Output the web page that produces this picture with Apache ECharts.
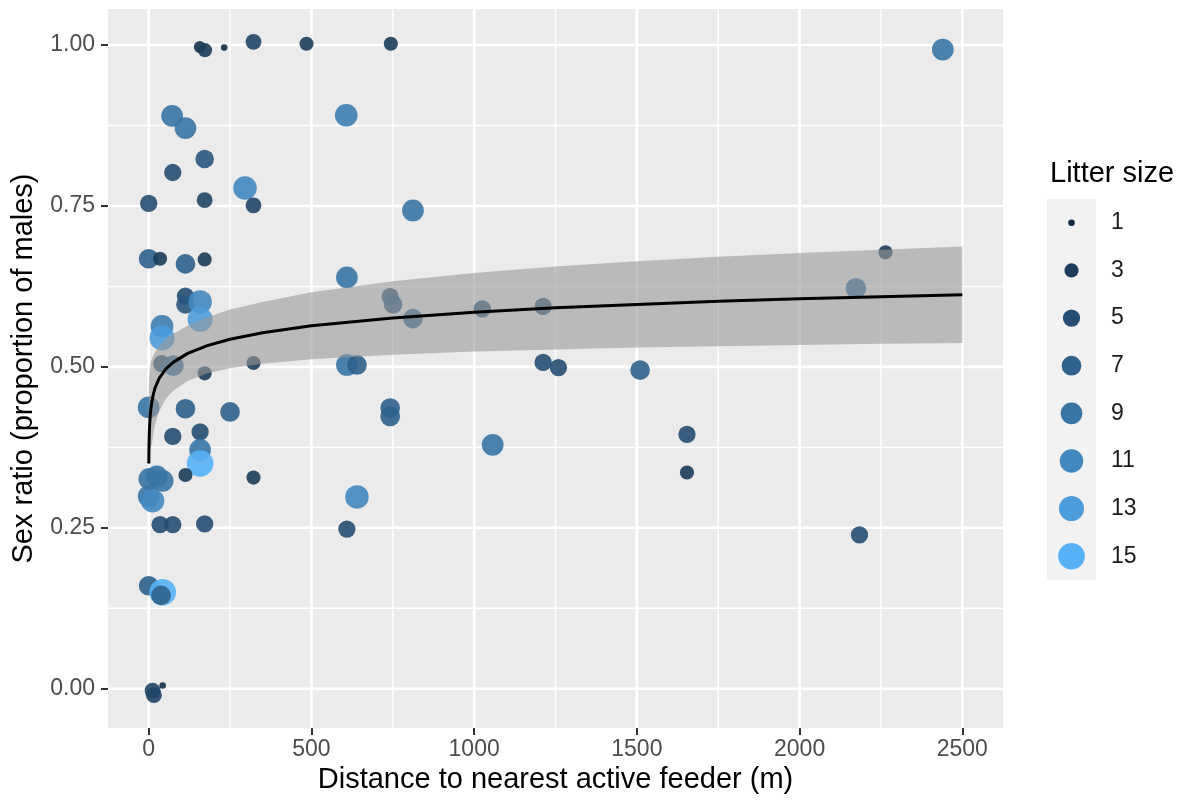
<!DOCTYPE html>
<html>
<head>
<meta charset="utf-8">
<title>Sex ratio vs distance to feeder</title>
<script src="https://cdn.jsdelivr.net/npm/echarts@6/dist/echarts.min.js"></script>
<style>
  html, body { margin: 0; padding: 0; background: #fff; }
  #chart { width: 1185px; height: 801px; }
</style>
</head>
<body>
<div id="chart"></div>
<script>
// one entry per litter: distance to feeder (m), proportion of males, litter size
const distance = [157, 173, 232, 322, 485, 744, 2440, 72, 113, 607, 172, 74, 296, 0, 172, 322, 812,
  0, 35, 113, 172, 609, 113, 113, 158, 158, 742, 751, 812, 41, 41, 40, 76, 322, 609, 640, 172,
  0, 113, 250, 742, 742, 74, 158, 158, 158, 113, 322, 2, 25, 43, 0, 12, 640, 35, 74, 172, 609,
  0, 43, 38, 12, 16, 43, 1025, 1212, 1212, 1259, 1510, 1057, 1654, 1654, 2184, 2264, 2173];
const sexRatio = [0.997, 0.992, 0.996, 1.005, 1.002, 1.002, 0.993, 0.890, 0.871, 0.891, 0.823, 0.802, 0.778, 0.754, 0.759, 0.751, 0.743,
  0.668, 0.668, 0.660, 0.667, 0.639, 0.610, 0.597, 0.601, 0.574, 0.609, 0.597, 0.575, 0.563, 0.545, 0.505, 0.502, 0.506, 0.503, 0.503, 0.490,
  0.437, 0.435, 0.430, 0.436, 0.423, 0.392, 0.399, 0.371, 0.350, 0.332, 0.328, 0.326, 0.330, 0.323, 0.299, 0.292, 0.298, 0.255, 0.255, 0.256, 0.248,
  0.160, 0.150, 0.145, -0.003, -0.010, 0.005, 0.590, 0.594, 0.507, 0.499, 0.495, 0.379, 0.395, 0.336, 0.239, 0.678, 0.622];
const litterSize = [2, 3, 1, 4, 3, 3, 9, 9, 9, 10, 6, 5, 11, 5, 4, 4, 9,
  7, 3, 7, 3, 9, 5, 6, 11, 13, 5, 6, 7, 10, 13, 5, 8, 3, 9, 7, 3,
  9, 7, 7, 7, 7, 5, 5, 9, 15, 3, 3, 9, 9, 9, 9, 11, 11, 5, 5, 5, 5,
  7, 15, 7, 4, 4, 1, 5, 5, 5, 5, 7, 9, 5, 3, 5, 3, 8];

// fitted curve and its confidence band
const fitX = [0.4, 1, 2, 3, 5, 7, 10, 15, 20, 33, 53, 75, 120, 180, 250, 350, 500, 750, 1000, 1250, 1500, 1750, 2000, 2250, 2500];
const fitY = [0.350, 0.378, 0.398, 0.411, 0.426, 0.436, 0.447, 0.459, 0.468, 0.483, 0.497, 0.507, 0.521, 0.533, 0.543, 0.553, 0.564, 0.576, 0.585, 0.592, 0.597, 0.602, 0.606, 0.609, 0.612];
const fitLower = [0.340, 0.350, 0.360, 0.365, 0.372, 0.376, 0.380, 0.399, 0.411, 0.432, 0.451, 0.463, 0.478, 0.490, 0.498, 0.505, 0.512, 0.519, 0.524, 0.527, 0.530, 0.532, 0.534, 0.536, 0.537];
const fitUpper = [0.470, 0.480, 0.490, 0.495, 0.503, 0.508, 0.513, 0.519, 0.524, 0.533, 0.543, 0.551, 0.564, 0.577, 0.589, 0.601, 0.616, 0.633, 0.646, 0.656, 0.664, 0.671, 0.677, 0.682, 0.687];

const xTicks = [0, 500, 1000, 1500, 2000, 2500];
const xMinor = [250, 750, 1250, 1750, 2250];
const yTicks = [0, 0.25, 0.5, 0.75, 1];
const yMinor = [0.125, 0.375, 0.625, 0.875];
const legendSizes = [1, 3, 5, 7, 9, 11, 13, 15];

const FONT = '"Liberation Sans", Arial, Helvetica, sans-serif';

// ggplot-like gradient (#132B43 -> #56B1F7), interpolated in Lab
function toLin(c) { c /= 255; return c <= 0.04045 ? c / 12.92 : Math.pow((c + 0.055) / 1.055, 2.4); }
function toSrgb(c) { c = c <= 0.0031308 ? 12.92 * c : 1.055 * Math.pow(c, 1 / 2.4) - 0.055; return Math.round(Math.min(1, Math.max(0, c)) * 255); }
function hexToLab(hex) {
  const r = toLin(parseInt(hex.substr(1, 2), 16)), g = toLin(parseInt(hex.substr(3, 2), 16)), b = toLin(parseInt(hex.substr(5, 2), 16));
  const X = (0.4124 * r + 0.3576 * g + 0.1805 * b) / 0.95047;
  const Y = 0.2126 * r + 0.7152 * g + 0.0722 * b;
  const Z = (0.0193 * r + 0.1192 * g + 0.9505 * b) / 1.08883;
  const f = t => t > 0.008856 ? Math.cbrt(t) : 7.787 * t + 16 / 116;
  return [116 * f(Y) - 16, 500 * (f(X) - f(Y)), 200 * (f(Y) - f(Z))];
}
function labToHex(L, a, b) {
  const fy = (L + 16) / 116, fx = fy + a / 500, fz = fy - b / 200;
  const inv = t => t * t * t > 0.008856 ? t * t * t : (t - 16 / 116) / 7.787;
  const X = inv(fx) * 0.95047, Y = inv(fy), Z = inv(fz) * 1.08883;
  const r = 3.2406 * X - 1.5372 * Y - 0.4986 * Z;
  const g = -0.9689 * X + 1.8758 * Y + 0.0415 * Z;
  const bb = 0.0557 * X - 0.2040 * Y + 1.0570 * Z;
  return 'rgb(' + toSrgb(r) + ',' + toSrgb(g) + ',' + toSrgb(bb) + ')';
}
const lowLab = hexToLab('#132B43');
const highLab = hexToLab('#56B1F7');
function sizeColour(v) {
  const t = (v - 1) / 14;
  return labToHex(lowLab[0] + t * (highLab[0] - lowLab[0]), lowLab[1] + t * (highLab[1] - lowLab[1]), lowLab[2] + t * (highLab[2] - lowLab[2]));
}
// area scale, like scale_size()
function keySize(v) { return 6.6 + 20 * Math.sqrt((v - 1) / 14); }

function gridLine(vertical, width) {
  return function (params, api) {
    const cs = params.coordSys;
    const p = api.coord([api.value(0), api.value(1)]);
    const shape = vertical
      ? { x1: p[0], y1: cs.y, x2: p[0], y2: cs.y + cs.height }
      : { x1: cs.x, y1: p[1], x2: cs.x + cs.width, y2: p[1] };
    return { type: 'line', shape: shape, style: { stroke: '#ffffff', lineWidth: width } };
  };
}

// whole ribbon as one polygon, drawn on the first item
function ribbon(params, api) {
  if (params.dataIndex !== 0) return null;
  const pts = [];
  for (let i = 0; i < fitX.length; i++) pts.push(api.coord([fitX[i], fitUpper[i]]));
  for (let i = fitX.length - 1; i >= 0; i--) pts.push(api.coord([fitX[i], fitLower[i]]));
  return { type: 'polygon', shape: { points: pts }, style: { fill: 'rgba(153,153,153,0.6)' } };
}

const points = distance.map((d, i) => [d, sexRatio[i], litterSize[i]]);

const chart = echarts.init(document.getElementById('chart'));
chart.setOption({
  animation: false,
  backgroundColor: '#ffffff',
  title: {
    text: 'Litter size',
    left: 1045,
    top: 154,
    textStyle: { fontFamily: FONT, fontSize: 29, fontWeight: 'normal', color: '#000000' },
  },
  grid: [
    { left: 108, top: 9, width: 895, height: 719, show: true, backgroundColor: '#EBEBEB', borderWidth: 0 },
    { left: 1047, top: 199, width: 49, height: 381, show: true, backgroundColor: '#F2F2F2', borderWidth: 0 },
  ],
  xAxis: [{
    type: 'value',
    gridIndex: 0,
    min: -125,
    max: 2625,
    splitLine: { show: false },
    axisLine: { show: false, onZero: false },
    axisTick: { show: true, customValues: xTicks, length: 7, lineStyle: { color: '#333333', width: 2 } },
    axisLabel: {
      customValues: xTicks, color: '#4D4D4D', fontSize: 23, fontFamily: FONT, margin: 10,
      formatter: v => String(v),
    },
    name: 'Distance to nearest active feeder (m)',
    nameLocation: 'middle',
    nameGap: 36,
    nameTextStyle: { color: '#000000', fontSize: 29, fontFamily: FONT },
  }, {
    type: 'value',
    gridIndex: 1,
    min: 0,
    max: 1,
    show: false,
  }],
  yAxis: [{
    type: 'value',
    gridIndex: 0,
    min: -0.061,
    max: 1.056,
    splitLine: { show: false },
    axisLine: { show: false, onZero: false },
    axisTick: { show: true, customValues: yTicks, length: 7, lineStyle: { color: '#333333', width: 2 } },
    axisLabel: {
      customValues: yTicks, color: '#4D4D4D', fontSize: 23, fontFamily: FONT, margin: 13,
      formatter: v => v.toFixed(2),
    },
    name: 'Sex ratio (proportion of males)',
    nameLocation: 'middle',
    nameGap: 70,
    nameTextStyle: { color: '#000000', fontSize: 29, fontFamily: FONT },
  }, {
    type: 'category',
    gridIndex: 1,
    data: legendSizes.map(String),
    inverse: true,
    position: 'right',
    axisLine: { show: false },
    axisTick: { show: false },
    splitLine: { show: false },
    axisLabel: { color: '#1A1A1A', fontSize: 23, fontFamily: FONT, margin: 15 },
  }],
  series: [
    {
      type: 'custom', z: 1, silent: true,
      renderItem: gridLine(true, 2.6),
      data: xTicks.map(v => [v, 0]),
    },
    {
      type: 'custom', z: 1, silent: true,
      renderItem: gridLine(true, 1.4),
      data: xMinor.map(v => [v, 0]),
    },
    {
      type: 'custom', z: 1, silent: true,
      renderItem: gridLine(false, 2.6),
      data: yTicks.map(v => [0, v]),
    },
    {
      type: 'custom', z: 1, silent: true,
      renderItem: gridLine(false, 1.4),
      data: yMinor.map(v => [0, v]),
    },
    {
      type: 'scatter',
      z: 2,
      data: points,
      symbolSize: v => keySize(v[2]),
      itemStyle: { color: p => sizeColour(p.value[2]), opacity: 0.9 },
    },
    {
      type: 'custom', z: 3, silent: true,
      renderItem: ribbon,
      data: fitX.map((x, i) => [x, fitLower[i], fitUpper[i]]),
    },
    {
      type: 'line', z: 4, symbol: 'none', silent: true,
      data: fitX.map((x, i) => [x, fitY[i]]),
      lineStyle: { color: '#000000', width: 3 },
    },
    {
      type: 'scatter',
      xAxisIndex: 1,
      yAxisIndex: 1,
      data: legendSizes.map((s, i) => [0.5, i, s]),
      symbolSize: v => keySize(v[2]),
      itemStyle: { color: p => sizeColour(p.value[2]), opacity: 1 },
    },
  ],
});
</script>
</body>
</html>
